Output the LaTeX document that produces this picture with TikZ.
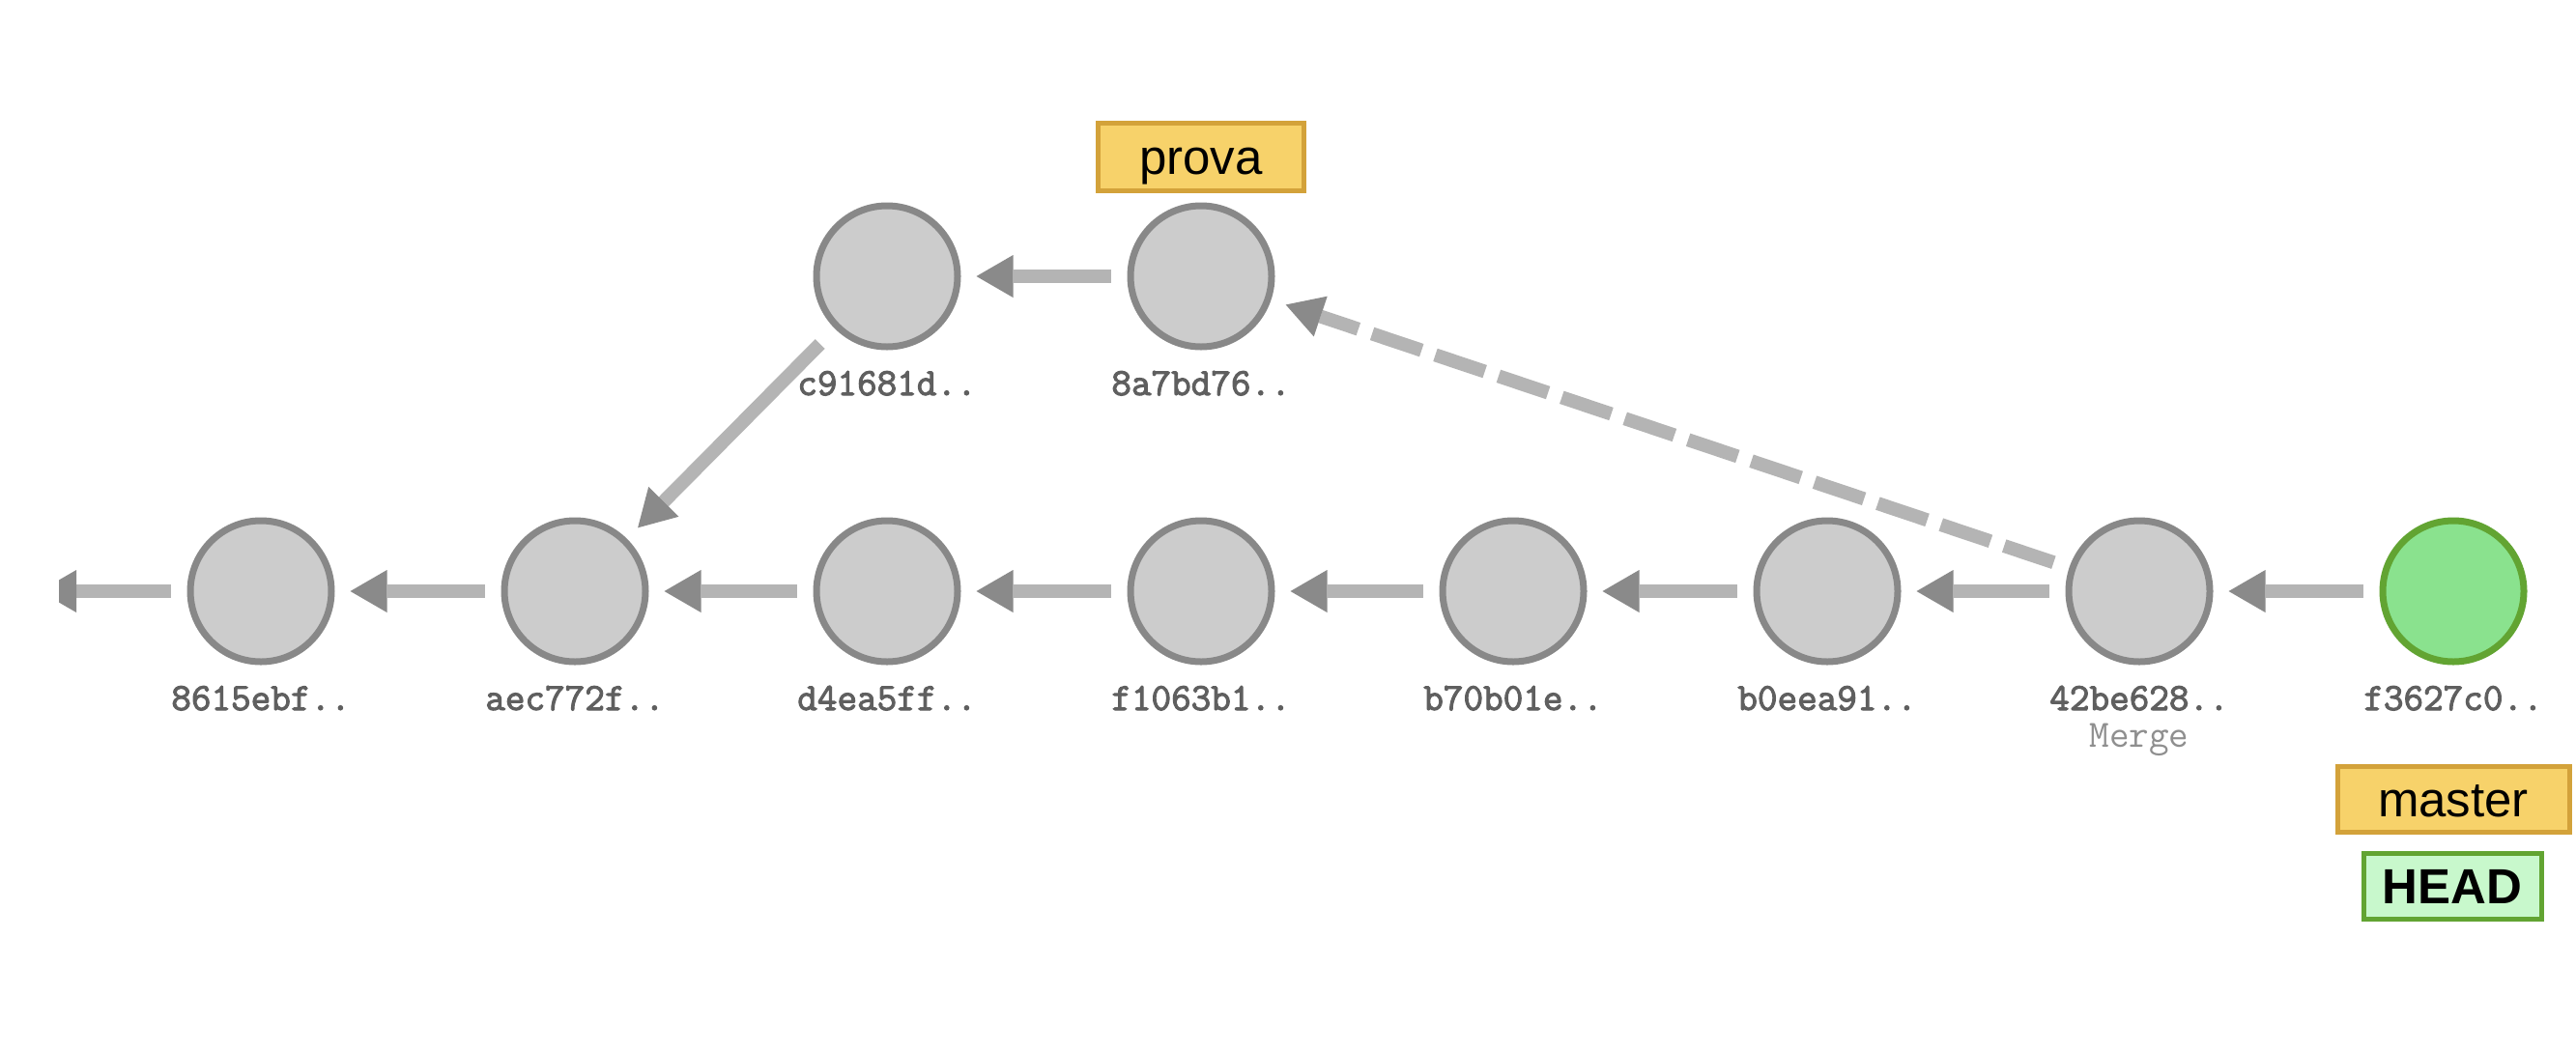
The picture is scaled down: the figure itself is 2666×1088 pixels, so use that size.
\documentclass[tikz,border=0pt]{standalone}
\usepackage{fontspec}
\setmainfont{Liberation Sans}
\newfontfamily\hashfont{Latin Modern Mono}[FakeBold=2.6]
\newfontfamily\mergefont{Latin Modern Mono}
\usetikzlibrary{arrows.meta}
\definecolor{lineg}{HTML}{B4B4B4}
\definecolor{headg}{HTML}{8A8A8A}
\definecolor{cfill}{HTML}{CCCCCC}
\definecolor{cdraw}{HTML}{888888}
\definecolor{gfill}{HTML}{8AE28E}
\definecolor{gdraw}{HTML}{62A432}
\definecolor{yfill}{HTML}{F7D26A}
\definecolor{ydraw}{HTML}{D3A23A}
\definecolor{hfill}{HTML}{C8F8CC}
\definecolor{hashc}{HTML}{5F5F5F}
\definecolor{mergec}{HTML}{8F8F8F}
\begin{document}
\begin{tikzpicture}[x=1pt,y=-1pt,
 commit/.style={circle,draw=cdraw,fill=cfill,line width=7pt,minimum size=146pt,inner sep=0pt},
 headcommit/.style={commit,draw=gdraw,fill=gfill},
 hashlbl/.style={font=\hashfont\fontsize{40}{40}\selectfont,text=hashc,anchor=base,inner sep=0pt},
 mergelbl/.style={font=\mergefont\fontsize{40}{40}\selectfont,text=mergec,anchor=base,inner sep=0pt},
 branch/.style={draw=ydraw,fill=yfill,line width=5pt,inner sep=0pt,text height=38pt,text depth=2pt,font=\fontsize{51}{51}\selectfont},
 headtag/.style={draw=gdraw,fill=hfill,line width=5pt,inner sep=0pt,text height=38pt,text depth=2pt,font=\bfseries\fontsize{51}{51}\selectfont},
 parent/.style={draw=lineg,line width=14pt,shorten >=16pt,shorten <=17pt,-{Triangle[length=38pt,width=44pt,line width=0pt,color=headg]}},
 mergeparent/.style={parent,dash pattern=on 54pt off 15pt},
]
\useasboundingbox[fill=white] (0,0) rectangle (2666,1088);
\begin{scope}
\clip (61,0) rectangle (2666,1088);
% commits
\node[commit] (c1) at (270,612) {};
\node[commit] (c2) at (595,612) {};
\node[commit] (c3) at (918,612) {};
\node[commit] (c4) at (1243,612) {};
\node[commit] (c5) at (1566,612) {};
\node[commit] (c6) at (1891,612) {};
\node[commit] (c7) at (2214,612) {};
\node[headcommit] (c8) at (2539,612) {};
\node[commit] (c10) at (918,286) {};
\node[commit] (c9) at (1243,286) {};
% labels
\path (c1) ++(0,123) node[hashlbl] (l1) {8615ebf..};
\path (c2) ++(0,123) node[hashlbl] (l2) {aec772f..};
\path (c3) ++(0,123) node[hashlbl] (l3) {d4ea5ff..};
\path (c4) ++(0,123) node[hashlbl] (l4) {f1063b1..};
\path (c5) ++(0,123) node[hashlbl] (l5) {b70b01e..};
\path (c6) ++(0,123) node[hashlbl] (l6) {b0eea91..};
\path (c7) ++(0,123) node[hashlbl] (l7) {42be628..};
\path (c7) ++(0,161) node[mergelbl] (m7) {Merge};
\path (c8) ++(0,123) node[hashlbl] (l8) {f3627c0..};
\path (c10) ++(0,123) node[hashlbl] (l10) {c91681d..};
\path (c9) ++(0,123) node[hashlbl] (l9) {8a7bd76..};
% refs
\node[branch,minimum width=213pt,minimum height=70pt] (prova) at (1243,162) {prova};
\node[branch,minimum width=240pt,minimum height=68pt] (master) at (2539,827) {master};
\node[headtag,minimum width=184pt,minimum height=68pt] (head) at (2538,917) {HEAD};
% parent links
\coordinate (off) at (41,612);
\draw[parent,shorten >=0pt] (c1) -- (off);
\draw[parent] (c2) -- (c1);
\draw[parent] (c3) -- (c2);
\draw[parent] (c4) -- (c3);
\draw[parent] (c5) -- (c4);
\draw[parent] (c6) -- (c5);
\draw[parent] (c7) -- (c6);
\draw[parent] (c8) -- (c7);
\draw[parent] (c9) -- (c10);
\draw[parent,shorten <=22pt] (c10) -- (c2);
\draw[mergeparent] (c7) -- (c9);
\end{scope}
\end{tikzpicture}
\end{document}
